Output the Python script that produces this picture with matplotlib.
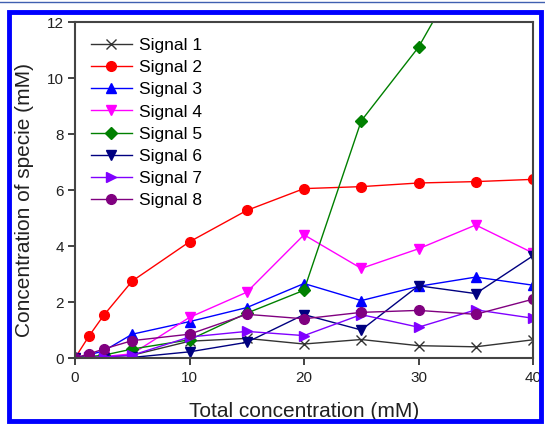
import matplotlib
matplotlib.use("Agg")
import matplotlib.pyplot as plt
from matplotlib.patches import Rectangle
from matplotlib.lines import Line2D

plt.rcParams['font.family'] = ['Liberation Sans', 'DejaVu Sans']

x = [0, 1.25, 2.5, 5, 10, 15, 20, 25, 30, 35, 40]
signal1 = [0, 0.02, 0.03, 0.1, 0.6, 0.7, 0.5, 0.66, 0.44, 0.4, 0.65]
signal2 = [0, 0.8, 1.52, 2.75, 4.15, 5.27, 6.05, 6.12, 6.25, 6.3, 6.38]
signal3 = [0, 0.12, 0.25, 0.85, 1.3, 1.8, 2.66, 2.05, 2.56, 2.89, 2.6]
signal4 = [0, 0.03, 0.05, 0.15, 1.45, 2.35, 4.4, 3.2, 3.9, 4.75, 3.75]
signal5 = [0, 0.05, 0.1, 0.32, 0.65, 1.6, 2.42, 8.47, 11.1, 14.7, 17.0]
signal6 = [0, 0.0, 0.0, 0.02, 0.22, 0.56, 1.55, 1.0, 2.58, 2.3, 3.65]
signal7 = [0, 0.02, 0.04, 0.1, 0.75, 0.95, 0.8, 1.55, 1.1, 1.72, 1.42]
signal8 = [0, 0.15, 0.32, 0.62, 0.85, 1.56, 1.4, 1.63, 1.7, 1.56, 2.1]

labels = ["Signal 1", "Signal 2", "Signal 3", "Signal 4",
          "Signal 5", "Signal 6", "Signal 7", "Signal 8"]
series = [signal1, signal2, signal3, signal4, signal5, signal6, signal7, signal8]
colors = ["#333333", "#ff0000", "#0000ff", "#ff00ff",
          "#008000", "#000080", "#8000ff", "#800080"]
markers = ["x", "o", "^", "v", "D", "v", ">", "o"]
msizes = [7, 7, 7, 7, 6, 7, 7, 7]

xticks = [0, 10, 20, 30, 40]
yticks = [0, 2, 4, 6, 8, 10, 12]

fig = plt.figure(figsize=(5.45, 4.25), dpi=100)
W, H = 545, 425
ax = fig.add_axes([75 / W, 1 - 358 / H, (533 - 75) / W, (358 - 22) / H])

for ys, lab, c, m, ms in zip(series, labels, colors, markers, msizes):
    ax.plot(x, ys, color=c, marker=m, markersize=ms, linewidth=1.0,
            markeredgewidth=1.0, label=lab)

ax.set_xlim(0, 40)
ax.set_ylim(0, 12)
ax.set_xticks(xticks)
ax.set_yticks(yticks)
ax.tick_params(axis='both', direction='out', length=5, width=1.2,
               labelsize=11, colors='#222222')
ax.tick_params(axis='x', pad=4)
ax.tick_params(axis='y', pad=3)
for sp in ax.spines.values():
    sp.set_linewidth(1.5)
    sp.set_color('#444444')

ax.set_xlabel("Total concentration (mM)", fontsize=15, color='#222222')
ax.set_ylabel("Concentration of specie (mM)", fontsize=15, color='#222222')
ax.xaxis.set_label_coords(0.5, -0.13)
ax.yaxis.set_label_coords(-0.09, 0.47)

ax.legend(loc='upper left', bbox_to_anchor=(0.035, 0.952), frameon=False,
          fontsize=12.5, borderaxespad=0, borderpad=0, labelspacing=0.4,
          handlelength=2.35, handletextpad=0.4)

# blue frame around figure
fig.add_artist(Rectangle((9 / W, 1 - 421 / H), (541 - 9) / W, (421 - 12) / H,
                         transform=fig.transFigure, fill=False,
                         edgecolor='#0000ff', linewidth=3.5))
fig.add_artist(Line2D([0, 1], [1 - 2 / H, 1 - 2 / H], transform=fig.transFigure,
                      color='#4060b0', linewidth=1))

fig.savefig("out.png", dpi=100)
